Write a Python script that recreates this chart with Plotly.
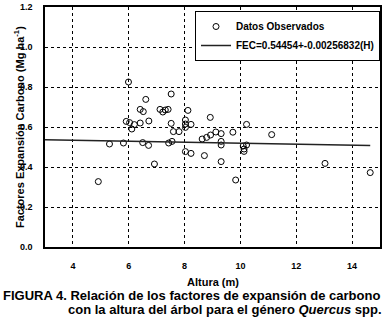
import plotly.graph_objects as go
import numpy as np

# Observed data: height (m) and carbon expansion factor
altura = [4.91, 5.31, 5.81, 5.91, 5.99, 6.03, 6.11, 6.20, 6.41, 6.41,
          6.52, 6.50, 6.61, 6.71, 6.72, 6.92, 7.12, 7.22, 7.31, 7.41,
          7.43, 7.52, 7.52, 7.55, 7.60, 7.80, 8.03, 8.03, 8.03, 8.12,
          8.23, 8.03, 8.23, 8.63, 8.71, 8.79, 8.92, 8.93, 9.12, 9.31,
          9.31, 9.31, 9.31, 9.73, 9.83, 10.10, 10.13, 10.13, 10.22, 10.22,
          11.12, 13.03, 14.65, 9.17]
fec = [0.327, 0.515, 0.520, 0.628, 0.825, 0.622, 0.590, 0.612, 0.620, 0.688,
       0.677, 0.522, 0.738, 0.508, 0.630, 0.415, 0.688, 0.675, 0.685, 0.688,
       0.520, 0.765, 0.618, 0.528, 0.577, 0.577, 0.635, 0.615, 0.598, 0.683,
       0.613, 0.477, 0.468, 0.540, 0.457, 0.548, 0.648, 0.560, 0.575, 0.567,
       0.528, 0.510, 0.427, 0.574, 0.335, 0.505, 0.490, 0.478, 0.510, 0.613,
       0.562, 0.418, 0.372, 0.995]

# Regression: FEC = a + b*H
coef_a = 0.54454
coef_b = -0.00256832
fit_range = [3.0, 14.65]

x_ticks = [4, 6, 8, 10, 12, 14]
y_ticks = [0.0, 0.2, 0.4, 0.6, 0.8, 1.0, 1.2]

fit_x = np.array(fit_range)
fit_y = coef_a + coef_b * fit_x

FONT = "Liberation Sans, Arial, sans-serif"
PW, PH = 335.0, 240.0  # plot area size in px

fig = go.Figure()
fig.add_trace(go.Scatter(
    x=altura, y=fec, mode="markers", name="Datos Observados",
    marker=dict(symbol="circle-open", size=6, color="black", line=dict(width=1, color="black")),
))
fig.add_trace(go.Scatter(
    x=fit_x, y=fit_y, mode="lines", name="FEC=0.54454+-0.00256832(H)",
    line=dict(color="#222222", width=1.5),
))

fig.update_layout(
    width=390, height=324,
    margin=dict(l=45, r=10, t=7, b=77, autoexpand=False),
    paper_bgcolor="white", plot_bgcolor="white",
    font=dict(family=FONT, color="black", size=9),
    showlegend=True,
    legend=dict(
        x=1.0, xanchor="right", y=1 - 4 / PH, yanchor="top",
        bgcolor="white", bordercolor="black", borderwidth=1,
        font=dict(family=FONT, size=10, color="black", weight="bold"),
        itemwidth=30, tracegroupgap=0,
    ),
    xaxis=dict(
        range=[3, 15], tickvals=x_ticks, ticktext=[str(v) for v in x_ticks],
        showgrid=True, gridcolor="black", griddash="dot", gridwidth=1,
        showline=True, linecolor="black", linewidth=1.5, mirror=True,
        zeroline=False, ticks="", ticklabelstandoff=9, automargin=False,
        tickfont=dict(family=FONT, size=9, color="black", weight="bold"),
    ),
    yaxis=dict(
        range=[0, 1.2], tickvals=y_ticks, ticktext=["%.1f" % v for v in y_ticks],
        showgrid=True, gridcolor="black", griddash="dot", gridwidth=1,
        showline=True, linecolor="black", linewidth=1.5, mirror=True,
        zeroline=False, ticks="", ticklabelstandoff=9, automargin=False,
        tickfont=dict(family=FONT, size=9, color="black", weight="bold"),
    ),
    annotations=[
        dict(text="Factores Expansión Carbono (Mg ha<sup>-1</sup>)", xref="paper", yref="paper",
             x=-35 / PW, y=0.5, textangle=-90, showarrow=False,
             font=dict(family=FONT, size=11, color="black", weight="bold")),
        dict(text="Altura (m)", xref="paper", yref="paper",
             x=0.5, y=-35 / PH, yanchor="middle", showarrow=False,
             font=dict(family=FONT, size=11, color="black", weight="bold")),
        dict(text="FIGURA 4. Relación de los factores de expansión de carbono", xref="paper", yref="paper",
             x=-44 / PW, xanchor="left", y=-48 / PH, yanchor="middle", showarrow=False,
             font=dict(family=FONT, size=13, color="black", weight="bold")),
        dict(text="con la altura del árbol para el género <i>Quercus</i> spp.", xref="paper", yref="paper",
             x=(384 - 45) / PW, xanchor="right", y=-62 / PH, yanchor="middle", showarrow=False,
             font=dict(family=FONT, size=13, color="black", weight="bold")),
    ],
)

fig.write_html(
    "out.html",
    config={"displayModeBar": False},
    post_script="document.body.style.margin='0';document.body.style.overflow='hidden';",
)
